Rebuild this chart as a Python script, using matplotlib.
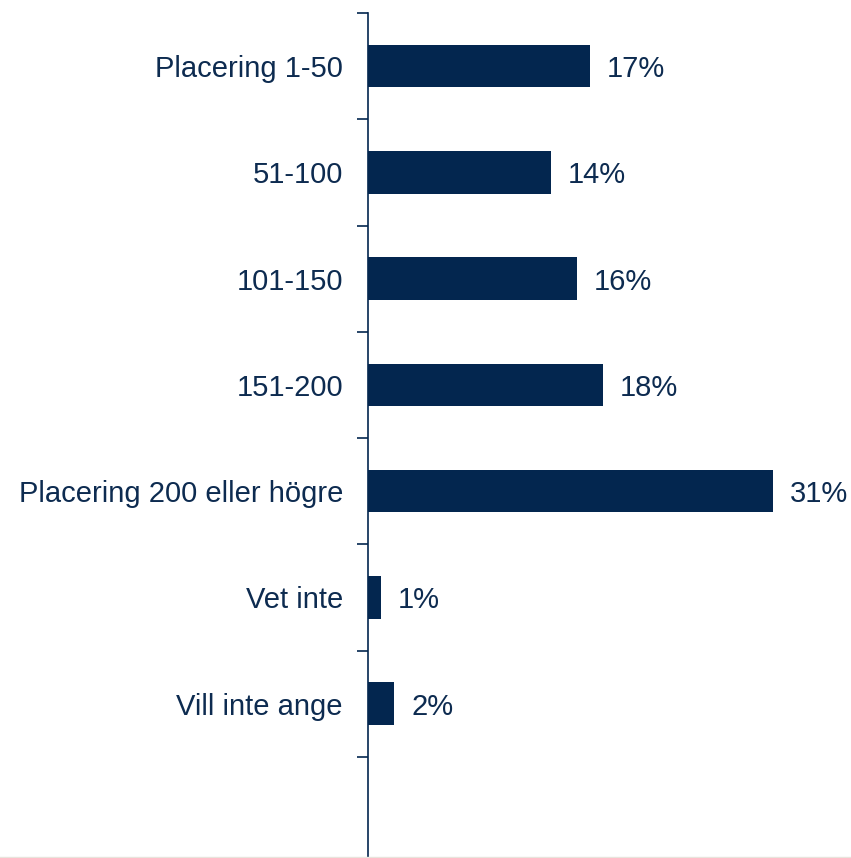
import matplotlib.pyplot as plt
import numpy as np

categories = ["Placering 1-50", "51-100", "101-150", "151-200",
              "Placering 200 eller högre", "Vet inte", "Vill inte ange"]
shares = [17, 14, 16, 18, 31, 1, 2]

navy = "#03264F"
text_col = "#0D2B50"

plt.rcParams["font.family"] = ["Liberation Sans", "DejaVu Sans"]

fig = plt.figure(figsize=(8.51, 8.58), dpi=100)
ax = fig.add_axes([368 / 851, -5 / 858, 483 / 851, 850 / 858])

y = np.arange(len(categories))
ax.barh(y, shares, height=0.4, color=navy)

for yi, v in zip(y, shares):
    ax.text(v + 1.3, yi, f"{v}%", va="center_baseline", ha="left",
            fontsize=21, color=text_col)

# one empty slot below the last category
ax.set_ylim(len(categories) + 0.5, -0.5)
ax.set_xlim(0, 483 / 13.06)

ax.set_yticks(y)
ax.set_yticklabels(categories, fontsize=21, color=text_col)
ax.tick_params(axis="y", which="major", length=0, pad=18)
ax.set_yticks(np.arange(len(categories) + 1) - 0.5, minor=True)
ax.tick_params(axis="y", which="minor", length=8, width=1.2, color=navy)
ax.set_xticks([])

for side in ["top", "right", "bottom"]:
    ax.spines[side].set_visible(False)
ax.spines["left"].set_color(navy)
ax.spines["left"].set_linewidth(1.2)

# thin frame edge along the bottom
fig.add_artist(plt.Line2D([0, 1], [0.6 / 858, 0.6 / 858],
                          transform=fig.transFigure, color="#E8E4DC", lw=1))

fig.savefig("out.png", dpi=100)
